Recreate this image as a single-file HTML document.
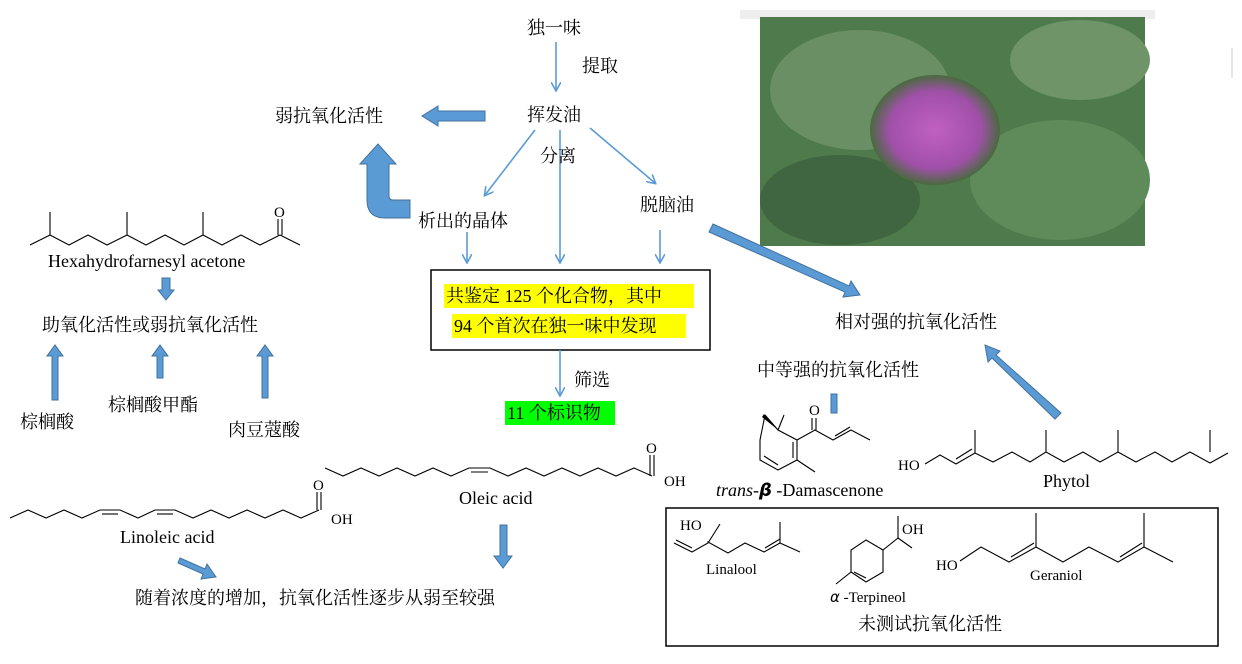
<!DOCTYPE html>
<html><head><meta charset="utf-8"><style>
html,body{margin:0;padding:0;background:#fff;}
svg{display:block;}
text{font-family:"Liberation Serif","Noto Serif CJK SC","Noto Sans CJK SC",serif;fill:#000;}
.cn{font-family:"Liberation Serif","Noto Serif CJK SC",serif;font-size:18px;}
.en{font-size:18px;}
.sm{font-size:15px;}
.ch{fill:none;stroke:#000;stroke-width:1.1;}
.tl{stroke:#5b9bd5;stroke-width:1.6;fill:none;}
.blk{fill:#5b9bd5;stroke:#41719c;stroke-width:1;}
</style></head><body>
<svg width="1242" height="664" viewBox="0 0 1242 664" xmlns="http://www.w3.org/2000/svg">
<defs>
<marker id="ah" markerWidth="10" markerHeight="10" refX="8" refY="5" orient="auto" markerUnits="userSpaceOnUse">
<path d="M0,0 L9,5 L0,10" fill="none" stroke="#5b9bd5" stroke-width="1.6"/></marker>
<radialGradient id="pur" cx="50%" cy="50%" r="50%"><stop offset="0" stop-color="#c060c0"/><stop offset="0.7" stop-color="#a050a8"/><stop offset="1" stop-color="#4a6a40"/></radialGradient>
</defs>

<!-- photo -->
<rect x="740" y="10" width="415" height="9" fill="#eee"/>
<rect x="760" y="17" width="385" height="229" fill="#4f7a4c"/>
<ellipse cx="860" cy="90" rx="90" ry="60" fill="#6a8f64"/>
<ellipse cx="1060" cy="180" rx="90" ry="60" fill="#5f8a5a"/>
<ellipse cx="840" cy="200" rx="80" ry="45" fill="#3f6640"/>
<ellipse cx="1080" cy="60" rx="70" ry="40" fill="#6e9468"/>
<ellipse cx="935" cy="130" rx="65" ry="55" fill="url(#pur)"/>

<!-- top flow -->
<text x="527" y="34" class="cn">独一味</text>
<line x1="556" y1="42" x2="556" y2="90" class="tl" marker-end="url(#ah)"/>
<text x="582" y="72" class="cn">提取</text>
<text x="527" y="121" class="cn">挥发油</text>
<text x="275" y="122" class="cn">弱抗氧化活性</text>
<polygon class="blk" points="485,111 438,111 438,106 422,116 438,126 438,121 485,121"/>
<line x1="535" y1="130" x2="485" y2="195" class="tl" marker-end="url(#ah)"/>
<line x1="560" y1="130" x2="560" y2="262" class="tl" marker-end="url(#ah)"/>
<line x1="590" y1="128" x2="655" y2="183" class="tl" marker-end="url(#ah)"/>
<text x="540" y="162" class="cn">分离</text>
<text x="418" y="227" class="cn">析出的晶体</text>
<text x="640" y="211" class="cn">脱脑油</text>
<line x1="467" y1="232" x2="467" y2="262" class="tl" marker-end="url(#ah)"/>
<line x1="660" y1="230" x2="660" y2="262" class="tl" marker-end="url(#ah)"/>
<!-- U arrow -->
<path class="blk" d="M410,212 L385,212 Q367,212 367,194 L367,158 L360,158 L378,138 L396,158 L389,158 L389,190 Q389,194 393,194 L410,194 Z" transform="translate(0,6)"/>

<rect x="431" y="270" width="279" height="80" fill="#fff" stroke="#000" stroke-width="1.5"/>
<rect x="444" y="284" width="250" height="24" fill="#ffff00"/>
<rect x="452" y="314" width="234" height="24" fill="#ffff00"/>
<text x="446" y="302" class="cn">共鉴定 125 个化合物，其中</text>
<text x="454" y="332" class="cn">94 个首次在独一味中发现</text>
<line x1="560" y1="350" x2="560" y2="395" class="tl" marker-end="url(#ah)"/>
<text x="574" y="386" class="cn">筛选</text>
<rect x="505" y="401" width="110" height="24" fill="#00ff00"/>
<text x="507" y="419" class="cn">11 个标识物</text>

<!-- right -->
<polygon class="blk" points="713,224 849,286 851,281 860,295 843,297 845,292 709,232"/>
<text x="835" y="328" class="cn">相对强的抗氧化活性</text>
<polygon class="blk" points="1061,413 996,355 1000,351 985,345 988,362 992,358 1055,419"/>
<text x="757" y="376" class="cn">中等强的抗氧化活性</text>
<rect x="831" y="394" width="6" height="19" class="blk"/>

<!-- damascenone -->
<polyline class="ch" points="765,415 760,440 760,460 778,470 797,460 797,440 778,430 765,415"/>
<line class="ch" x1="778" y1="430" x2="784" y2="415"/>
<polygon points="778,430 762,417 764,414" fill="#000"/>
<line class="ch" x1="764" y1="456" x2="778" y2="465"/>
<line class="ch" x1="793" y1="442" x2="793" y2="458"/>
<polyline class="ch" points="797,440 815,430 833,440 851,430 870,440"/>
<line class="ch" x1="812" y1="418" x2="812" y2="430"/><line class="ch" x1="816" y1="418" x2="816" y2="430"/>
<text x="809" y="415" class="sm">O</text>
<line class="ch" x1="835" y1="436" x2="850" y2="427"/>
<line class="ch" x1="797" y1="460" x2="815" y2="472"/>
<text x="716" y="496" class="en"><tspan font-style="italic">trans-</tspan><tspan font-family="DejaVu Sans" font-style="italic" font-weight="bold">β</tspan> -Damascenone</text>

<!-- phytol -->
<text x="898" y="470" class="sm">HO</text>
<polyline class="ch" points="925,464 940,455 956,464 975,453 993,462 1012,452 1030,462 1046,452 1064,462 1083,452 1100,462 1118,452 1136,462 1155,452 1172,462 1190,452 1210,463 1228,453"/>
<line class="ch" x1="956" y1="459" x2="972" y2="449"/>
<line class="ch" x1="975" y1="453" x2="975" y2="430"/>
<line class="ch" x1="1046" y1="452" x2="1046" y2="430"/>
<line class="ch" x1="1118" y1="452" x2="1118" y2="430"/>
<line class="ch" x1="1210" y1="452" x2="1210" y2="430"/>
<text x="1043" y="487" class="en">Phytol</text>

<!-- box bottom right -->
<rect x="666" y="508" width="552" height="138" fill="none" stroke="#000" stroke-width="1.5"/>
<text x="680" y="530" class="sm">HO</text>
<polyline class="ch" points="674,543 692,552 708,543 720,524"/>
<line class="ch" x1="676" y1="540" x2="692" y2="548"/>
<polyline class="ch" points="708,543 708,542 728,553 745,543 764,552 780,543 800,552"/>
<line class="ch" x1="765" y1="548" x2="780" y2="539"/>
<line class="ch" x1="780" y1="543" x2="780" y2="522"/>
<text x="706" y="574" class="sm">Linalool</text>
<polyline class="ch" points="836,584 851,572 851,550 866,540 883,550 883,572 866,582 851,572"/>
<line class="ch" x1="854" y1="572" x2="866" y2="578"/>
<line class="ch" x1="883" y1="550" x2="898" y2="538 "/>
<line class="ch" x1="898" y1="538" x2="898" y2="516"/>
<line class="ch" x1="898" y1="538" x2="912" y2="548"/>
<text x="902" y="534" class="sm">OH</text>
<text x="830" y="602" class="sm"><tspan font-family="DejaVu Sans" font-style="italic">α</tspan> -Terpineol</text>
<text x="936" y="570" class="sm">HO</text>
<polyline class="ch" points="960,561 981,547 1009,562 1036,547 1063,562 1089,547 1118,562 1144,547 1173,562"/>
<line class="ch" x1="1011" y1="557" x2="1034" y2="543"/>
<line class="ch" x1="1120" y1="557" x2="1142" y2="543"/>
<line class="ch" x1="1036" y1="547" x2="1036" y2="513"/>
<line class="ch" x1="1144" y1="547" x2="1144" y2="513"/>
<text x="1030" y="580" class="sm">Geraniol</text>
<text x="858" y="630" class="cn">未测试抗氧化活性</text>

<!-- left: hexahydrofarnesyl acetone -->
<polyline class="ch" points="30,245 50,235 69,245 88,235 107,245 127,235 146,245 165,235 184,245 203,235 222,245 241,235 260,245 280,235 300,245"/>
<line class="ch" x1="50" y1="235" x2="50" y2="212"/>
<line class="ch" x1="127" y1="235" x2="127" y2="212"/>
<line class="ch" x1="203" y1="235" x2="203" y2="212"/>
<line class="ch" x1="278" y1="235" x2="278" y2="219"/><line class="ch" x1="282" y1="235" x2="282" y2="219"/>
<text x="274" y="217" class="sm">O</text>
<text x="48" y="267" class="en">Hexahydrofarnesyl acetone</text>
<polygon class="blk" points="162,278 170,278 170,290 174,290 166,300 158,290 162,290"/>
<text x="42" y="331" class="cn">助氧化活性或弱抗氧化活性</text>
<polygon class="blk" points="52,400 58,400 58,356 63,356 55,345 47,356 52,356"/>
<polygon class="blk" points="157,378 163,378 163,356 168,356 160,345 152,356 157,356"/>
<polygon class="blk" points="262,398 268,398 268,356 273,356 265,345 257,356 262,356"/>
<text x="20" y="428" class="cn">棕榈酸</text>
<text x="108" y="411" class="cn">棕榈酸甲酯</text>
<text x="228" y="436" class="cn">肉豆蔻酸</text>

<!-- oleic -->
<polyline class="ch" points="325,468 343,476 361,468 379,476 397,468 415,476 433,468 451,476 469,468 490,468 508,476 526,468 544,476 562,468 580,476 598,468 616,476 634,468 652,476"/>
<line class="ch" x1="471" y1="472" x2="488" y2="472"/>
<line class="ch" x1="650" y1="476" x2="650" y2="455"/><line class="ch" x1="654" y1="476" x2="654" y2="455"/>
<text x="646" y="453" class="sm">O</text>
<text x="664" y="486" class="sm">OH</text>
<text x="459" y="504" class="en">Oleic acid</text>
<polygon class="blk" points="500,525 507,525 507,556 512,556 503,568 494,556 500,556"/>

<!-- linoleic -->
<polyline class="ch" points="10,518 28,510 46,518 64,510 82,518 100,510 120,510 138,518 155,510 175,510 193,518 211,510 229,518 247,510 265,518 283,510 301,518 319,510"/>
<line class="ch" x1="102" y1="514" x2="118" y2="514"/>
<line class="ch" x1="157" y1="514" x2="173" y2="514"/>
<line class="ch" x1="317" y1="510" x2="317" y2="492"/><line class="ch" x1="321" y1="510" x2="321" y2="492"/>
<text x="313" y="490" class="sm">O</text>
<text x="331" y="524" class="sm">OH</text>
<text x="120" y="543" class="en">Linoleic acid</text>
<polygon class="blk" points="180,558 205,569 207,564 216,577 201,579 203,574 178,563"/>
<text x="135" y="604" class="cn">随着浓度的增加，抗氧化活性逐步从弱至较强</text>
<line x1="1232" y1="48" x2="1232" y2="78" stroke="#ccc"/>
</svg>
</body></html>
